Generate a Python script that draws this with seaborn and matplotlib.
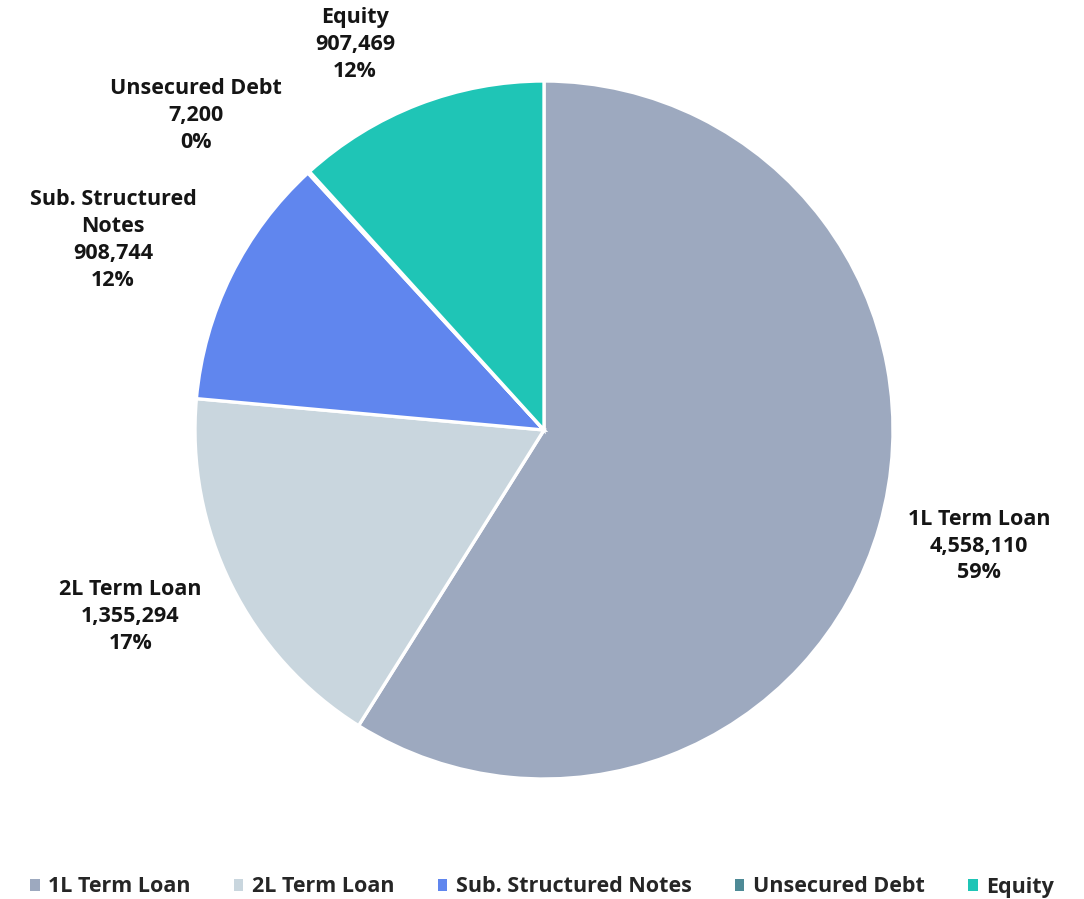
import numpy as np
import matplotlib
matplotlib.use("Agg")
import matplotlib.pyplot as plt
from matplotlib.patches import Patch
import seaborn as sns

# Portfolio composition by asset class
categories = ["1L Term Loan", "2L Term Loan", "Sub. Structured Notes", "Unsecured Debt", "Equity"]
values = [4558110, 1355294, 908744, 7200, 907469]
pct_labels = [59, 17, 12, 0, 12]
label_names = ["1L Term Loan", "2L Term Loan", "Sub. Structured\nNotes", "Unsecured Debt", "Equity"]
colors = ["#9DA9BF", "#C9D6DE", "#6086EE", "#4E8A96", "#1FC5B6"]

sns.set_theme(style="white")
plt.rcParams["font.family"] = ["Open Sans", "DejaVu Sans"]

W, H = 1084, 899
fig = plt.figure(figsize=(W / 100, H / 100), dpi=100)

# Pie of radius 1 centred at (544, 430) px with a radius of 349 px
R_PX = 349
cx, cy = 544, 430
ax = fig.add_axes([4 / W, (H - 860) / H, 1080 / W, 860 / H])

wedges, _ = ax.pie(
    values, colors=colors, startangle=90, counterclock=False, radius=1.0,
    wedgeprops=dict(edgecolor="white", linewidth=2.4),
)
ax.set_xlim(-(cx - 4) / R_PX, (1084 - cx) / R_PX)
ax.set_ylim(-(860 - cy) / R_PX, cy / R_PX)
ax.set_aspect("equal", adjustable="datalim")
ax.axis("off")

label_dist = [1.29, 1.30, 1.35, 1.345, 1.23]
angle_shift = [1.1, -2.1, 2.5, 5.5, 5.0]
for w, name, v, pct, d, s in zip(wedges, label_names, values, pct_labels, label_dist, angle_shift):
    mid = np.deg2rad((w.theta1 + w.theta2) / 2 + s)
    x, y = d * np.cos(mid), d * np.sin(mid)
    ax.text(x, y, f"{name}\n{v:,}\n{pct}%", ha="center", va="center",
            fontsize=15.5, fontweight="bold", color="#151515", linespacing=1.36)

handles = [Patch(facecolor=c, edgecolor="none") for c in colors]
fig.legend(handles, categories, loc="center", bbox_to_anchor=(0.5, (H - 887) / H),
           ncol=5, frameon=False, handlelength=0.45, handleheight=0.45,
           handletextpad=0.4, columnspacing=2.0,
           prop=dict(size=15.5, weight="bold"))

fig.savefig("out.png", dpi=100, facecolor="white")
